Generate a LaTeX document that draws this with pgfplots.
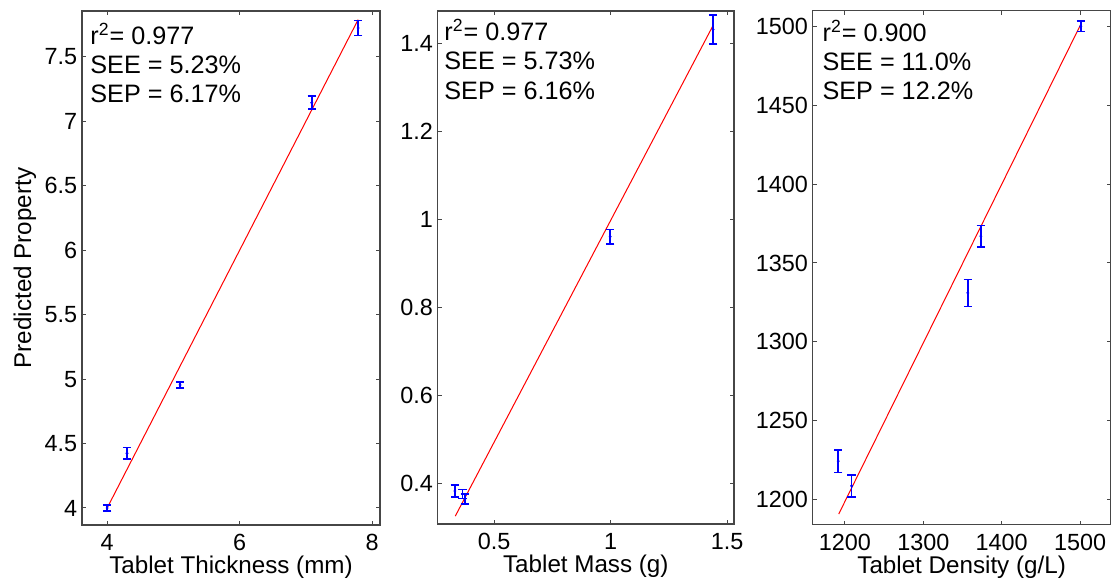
\documentclass[border=0pt]{standalone}
\usepackage{fontspec}
\setmainfont{Liberation Sans}
\usepackage{pgfplots}
\usepackage{pgfplotstable}
\pgfplotsset{compat=1.18}

\definecolor{axgray}{RGB}{70,70,70}

% measured values: x, predicted y, error
\pgfplotstableread{
x    y     e
4.00 4.00  0.022
4.30 4.425 0.045
5.10 4.955 0.022
7.09 7.145 0.05
7.79 7.725 0.058
}\thick
\pgfplotstableread{
x     y     e
0.331 0.382 0.014
0.364 0.375 0.010
0.374 0.364 0.011
0.998 0.960 0.016
1.440 1.431 0.033
}\mass
\pgfplotstableread{
x      y      e
1191.4 1224.3 7.1
1208.5 1208.6 7.0
1356.7 1331.0 8.5
1373.4 1367.0 6.8
1500.9 1500.2 3.3
}\dens

\pgfplotsset{
  panel/.style={
    scale only axis,
    anchor=south west,
    axis line style={axgray, line width=0.6pt},
    tick style={axgray, line width=0.5pt},
    major tick length=2pt,
    tick align=inside,
    scaled ticks=false,
    /pgf/number format/1000 sep={},
    /pgf/number format/assume math mode=true,
    tick label style={font=\fontsize{11.7}{13}\selectfont, text=black},
    xticklabel style={anchor=base, yshift=-12.7pt},
    yticklabel style={anchor=east, inner sep=0pt, xshift=-2.2pt},
    label style={font=\fontsize{12.1}{14}\selectfont},
    xlabel style={at={(axis description cs:0.5,0)}, anchor=base, yshift=-24.2pt},
  },
  errs/.style={
    blue, only marks, mark=*, mark size=0.5pt,
    error bars/.cd, y dir=both, y explicit,
    error bar style={line width=0.8pt, blue},
    error mark options={rotate=90, mark size=2.1pt, line width=0.8pt, blue},
  },
  fit/.style={red, line width=0.5pt},
}
\newcommand{\annot}{\fontsize{12.6}{14.8}\selectfont}
\tikzset{stat/.style={anchor=base west, inner sep=0pt, font=\annot}}

\begin{document}
\begin{tikzpicture}
\useasboundingbox (0,0) rectangle (556pt,292pt);

\begin{axis}[panel, at={(41pt,29.5pt)}, width=149pt, height=257pt,
  xmin=3.62, xmax=8.12, ymin=3.868, ymax=7.857,
  xtick={4,6,8}, ytick={4,4.5,5,5.5,6,6.5,7,7.5},
  xlabel={Tablet Thickness (mm)}, ylabel={Predicted Property},
  ylabel style={at={(axis description cs:-0.171,0.5)}, anchor=base}]
\addplot[fit] coordinates {(4.0,4.0) (7.79,7.79)};
\addplot[errs] table[x=x, y=y, y error=e] {\thick};
\node[stat] at ([xshift=4pt, yshift=-16.7pt]rel axis cs:0,1) {r\textsuperscript{2}= 0.977};
\node[stat] at ([xshift=4pt, yshift=-31.2pt]rel axis cs:0,1) {SEE = 5.23\%};
\node[stat] at ([xshift=4pt, yshift=-45.8pt]rel axis cs:0,1) {SEP = 6.17\%};
\end{axis}

\begin{axis}[panel, at={(218.8pt,30pt)}, width=148.2pt, height=256.5pt,
  xmin=0.257, xmax=1.53, ymin=0.307, ymax=1.473,
  xtick={0.5,1,1.5}, ytick={0.4,0.6,0.8,1,1.2,1.4},
  xlabel={Tablet Mass (g)}]
\addplot[fit] coordinates {(0.333,0.325) (1.44,1.44)};
\addplot[errs] table[x=x, y=y, y error=e] {\mass};
\node[stat] at ([xshift=3.2pt, yshift=-14.8pt]rel axis cs:0,1) {r\textsuperscript{2}= 0.977};
\node[stat] at ([xshift=3.2pt, yshift=-29.5pt]rel axis cs:0,1) {SEE = 5.73\%};
\node[stat] at ([xshift=3.2pt, yshift=-44.2pt]rel axis cs:0,1) {SEP = 6.16\%};
\end{axis}

\begin{axis}[panel, at={(406.3pt,29.6pt)}, width=149pt, height=257pt,
  xmin=1158.7, xmax=1539, ymin=1183.9, ymax=1510,
  xtick={1200,1300,1400,1500}, ytick={1200,1250,1300,1350,1400,1450,1500},
  xlabel={Tablet Density (g/L)}]
\addplot[fit] coordinates {(1192,1190.7) (1500.5,1501)};
\addplot[errs] table[x=x, y=y, y error=e] {\dens};
\node[stat] at ([xshift=4.8pt, yshift=-15.3pt]rel axis cs:0,1) {r\textsuperscript{2}= 0.900};
\node[stat] at ([xshift=4.8pt, yshift=-30pt]rel axis cs:0,1) {SEE = 11.0\%};
\node[stat] at ([xshift=4.8pt, yshift=-44.5pt]rel axis cs:0,1) {SEP = 12.2\%};
\end{axis}
\end{tikzpicture}
\end{document}
